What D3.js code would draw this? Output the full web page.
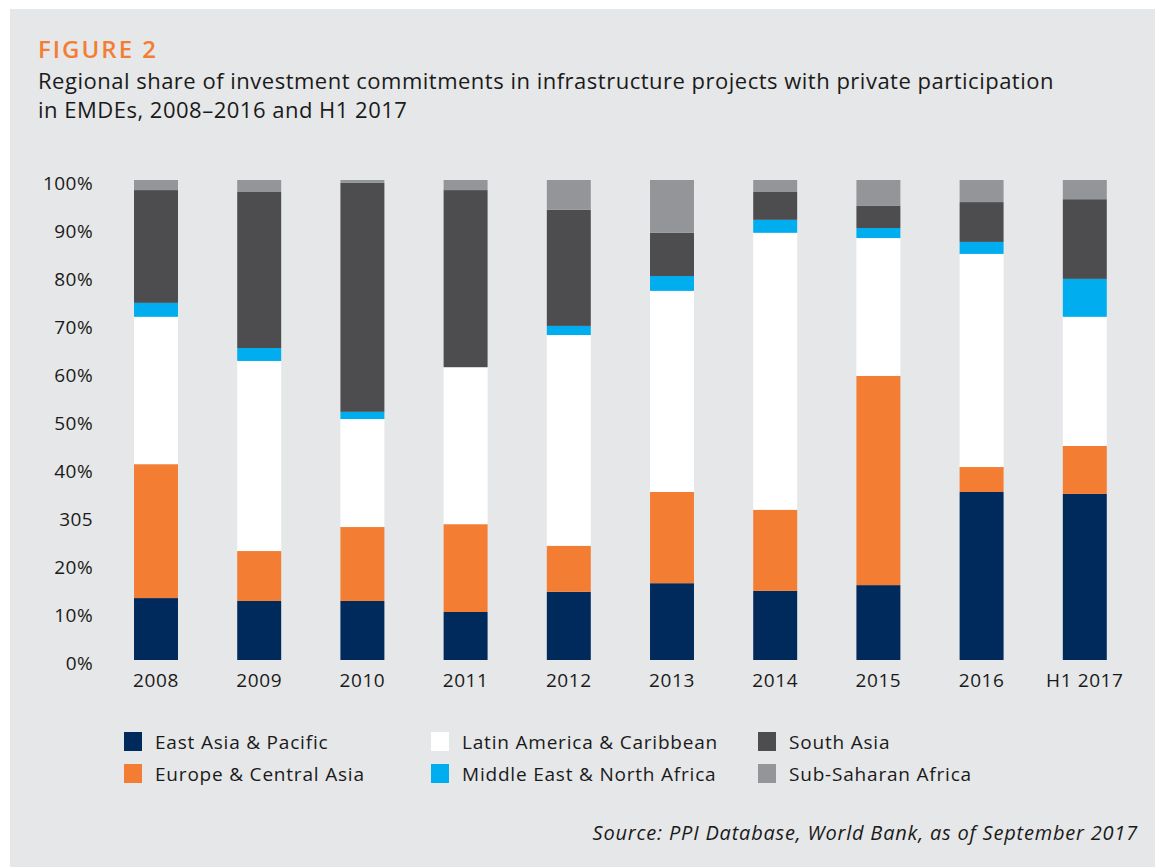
<!DOCTYPE html>
<html lang="en">
<head>
  <meta charset="UTF-8" />
  <script src="https://d3js.org/d3.v7.min.js"></script>
  <title>Figure 2</title>
  <style>
    body { margin: 0; background: #fff; }
    svg text { font-family: "Open Sans", Lato, sans-serif; }
  </style>
</head>
<body>
  <svg width="1155" height="867"></svg>

  <script>
    const width = 1155;
    const height = 867;

    // categories on the x axis
    const years = ["2008", "2009", "2010", "2011", "2012", "2013", "2014", "2015", "2016", "H1 2017"];

    // regional shares (%), bottom to top
    const eastAsia     = [12.9, 12.3, 12.3, 10.0, 14.2, 16.0, 14.4, 15.6, 35.0, 34.6];
    const europe       = [27.9, 10.4, 15.4, 18.3,  9.6, 19.0, 16.9, 43.6,  5.2, 10.0];
    const latinAmerica = [30.7, 39.6, 22.5, 32.7, 43.9, 41.9, 57.7, 28.7, 44.4, 26.9];
    const middleEast   = [ 2.9,  2.7,  1.5,  0.0,  1.9,  3.1,  2.7,  2.1,  2.5,  7.9];
    const southAsia    = [23.5, 32.5, 47.7, 36.9, 24.2,  9.0,  5.8,  4.6,  8.3, 16.6];
    const subSaharan   = [ 2.1,  2.5,  0.6,  2.1,  6.2, 11.0,  2.5,  5.4,  4.6,  4.0];

    // tick labels as printed (the 30% tick reads "305" in the original)
    const tickValues = [0, 10, 20, 30, 40, 50, 60, 70, 80, 90, 100];
    const tickLabels = ["0%", "10%", "20%", "305", "40%", "50%", "60%", "70%", "80%", "90%", "100%"];

    const regions = [
      { key: "eap", name: "East Asia & Pacific", values: eastAsia, color: "#002a5c" },
      { key: "eca", name: "Europe & Central Asia", values: europe, color: "#f37e33" },
      { key: "lac", name: "Latin America & Caribbean", values: latinAmerica, color: "#ffffff" },
      { key: "mena", name: "Middle East & North Africa", values: middleEast, color: "#00aeef" },
      { key: "sa", name: "South Asia", values: southAsia, color: "#4d4d4f" },
      { key: "ssa", name: "Sub-Saharan Africa", values: subSaharan, color: "#939598" }
    ];

    const table = years.map((y, i) => {
      const row = { year: y };
      regions.forEach(r => { row[r.key] = r.values[i]; });
      return row;
    });

    const svg = d3.select("svg");

    svg.append("rect")
      .attr("x", 10).attr("y", 9)
      .attr("width", width - 10).attr("height", height - 9)
      .attr("fill", "#e6e7e8");

    // heading
    svg.append("text")
      .attr("x", 38).attr("y", 58)
      .attr("fill", "#f37e33")
      .attr("font-size", 24)
      .attr("font-weight", 600)
      .attr("letter-spacing", 2)
      .text("FIGURE 2");

    const sub = svg.append("text")
      .attr("x", 38).attr("y", 89)
      .attr("fill", "#1a1a1a")
      .attr("font-size", 22)
      .attr("letter-spacing", 0.5);
    sub.append("tspan").attr("x", 38).attr("dy", 0)
      .text("Regional share of investment commitments in infrastructure projects with private participation");
    sub.append("tspan").attr("x", 38).attr("dy", 29)
      .text("in EMDEs, 2008\u20132016 and H1 2017");

    const x = d3.scaleBand()
      .domain(years)
      .range([104.4, 1136.4])
      .paddingInner(0.574)
      .paddingOuter(0.287);

    const y = d3.scaleLinear()
      .domain([0, 100])
      .range([660, 180]);

    const stack = d3.stack().keys(regions.map(r => r.key));
    const series = stack(table);

    svg.append("g")
      .selectAll("g")
      .data(series)
      .join("g")
      .attr("fill", (d, i) => regions[i].color)
      .selectAll("rect")
      .data(d => d)
      .join("rect")
      .attr("x", d => x(d.data.year))
      .attr("width", x.bandwidth())
      .attr("y", d => y(d[1]))
      .attr("height", d => y(d[0]) - y(d[1]));

    // y axis
    const yAxis = d3.axisLeft(y)
      .tickValues(tickValues)
      .tickFormat((d, i) => tickLabels[i])
      .tickSize(0)
      .tickPadding(0);

    const gy = svg.append("g")
      .attr("transform", "translate(93,3)")
      .call(yAxis);
    gy.select(".domain").remove();
    gy.selectAll("text")
      .attr("font-size", 19)
      .attr("letter-spacing", 0.4)
      .attr("fill", "#1a1a1a")
      .attr("font-family", "'Open Sans', Lato, sans-serif");

    // x axis
    const xAxis = d3.axisBottom(x).tickSize(0).tickPadding(0);
    const gx = svg.append("g")
      .attr("transform", "translate(0,673)")
      .call(xAxis);
    gx.select(".domain").remove();
    gx.selectAll("text")
      .attr("font-size", 19)
      .attr("letter-spacing", 0.6)
      .attr("fill", "#1a1a1a")
      .attr("font-family", "'Open Sans', Lato, sans-serif");

    // legend, three columns by two rows
    const legendCols = [124, 431, 758];
    const legendRows = [732, 764];
    const legend = svg.append("g")
      .selectAll("g")
      .data(regions)
      .join("g")
      .attr("transform", (d, i) => `translate(${legendCols[Math.floor(i / 2)]},${legendRows[i % 2]})`);

    legend.append("rect")
      .attr("width", 18).attr("height", 19)
      .attr("fill", d => d.color);

    legend.append("text")
      .attr("x", 31).attr("y", 17)
      .attr("font-size", 19)
      .attr("letter-spacing", 0.8)
      .attr("fill", "#1a1a1a")
      .text(d => d.name);

    svg.append("text")
      .attr("x", 1138).attr("y", 840)
      .attr("text-anchor", "end")
      .attr("font-size", 20)
      .attr("letter-spacing", 0.8)
      .attr("font-style", "italic")
      .attr("fill", "#1a1a1a")
      .text("Source: PPI Database, World Bank, as of September 2017");
  </script>
</body>
</html>
